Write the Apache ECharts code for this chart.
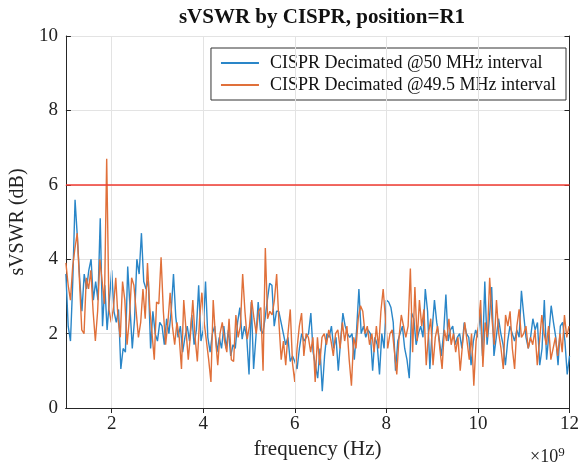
<!DOCTYPE html>
<html>
<head>
<meta charset="utf-8">
<script src="https://cdn.jsdelivr.net/npm/echarts@6/dist/echarts.min.js"></script>
<style>
  html, body { margin: 0; padding: 0; background: #fff; }
  #chart { width: 582px; height: 467px; }
</style>
</head>
<body>
<div id="chart"></div>
<script>
// axis ticks
const xTicks = [2, 4, 6, 8, 10, 12]
const yTicks = [0, 2, 4, 6, 8, 10]
const limitValue = 6 // red limit line (dB)

// frequency grid of each series, GHz
const start50 = 1
const step50 = 0.05
const start495 = 1
const step495 = 0.0495

// sVSWR (dB), CISPR decimated @50 MHz
const svswr50 = [
  3.6, 2.2, 1.8, 3.4, 5.6, 4.6, 3.5, 2.6, 3.6, 3.2, 3.7, 4.0, 2.9, 3.4, 2.9, 5.1, 2.2, 3.3, 2.1, 2.9,
  3.7, 2.6, 2.3, 2.65, 1.05, 1.6, 1.5, 3.8, 2.7, 1.6, 2.4, 4.0, 3.6, 4.7, 3.4, 3.2, 3.45, 1.6, 2.6, 2.0,
  1.8, 2.3, 2.2, 1.7, 2.4, 2.0, 2.6, 3.6, 2.45, 1.9, 2.2, 1.5, 1.9, 2.2, 1.8, 2.5, 1.7, 2.1, 3.3, 1.8,
  2.1, 3.4, 1.9, 1.5, 2.0, 2.2, 1.5, 1.9, 1.6, 2.2, 1.6, 2.1, 1.4, 1.7, 1.6, 2.3, 2.7, 1.85, 2.2, 1.9,
  0.9, 2.85, 1.05, 1.9, 2.85, 2.1, 2.0, 2.4, 2.9, 3.35, 3.3, 2.2, 2.6, 2.6, 2.3, 2.0, 1.7, 1.9, 1.25, 1.4,
  1.25, 1.05, 1.6, 2.0, 1.8, 1.9, 2.0, 2.55, 1.5, 1.15, 0.8, 1.6, 0.45, 1.4, 2.0, 1.9, 2.2, 1.6, 1.9, 1.0,
  1.8, 2.55, 2.2, 2.0, 1.9, 2.0, 1.3, 2.1, 3.2, 2.0, 2.2, 1.9, 2.1, 2.0, 1.0, 1.9, 1.7, 0.9, 2.0, 1.6,
  2.9, 2.85, 2.7, 2.3, 1.0, 1.8, 2.0, 2.2, 1.6, 1.3, 0.8, 2.55, 2.4, 1.7, 2.0, 2.2, 1.9, 3.2, 2.6, 1.05,
  2.1, 2.9, 2.3, 1.9, 1.4, 2.0, 3.05, 1.8, 2.1, 2.2, 1.7, 1.9, 2.0, 1.6, 2.3, 2.0, 1.9, 1.15, 1.8, 2.1,
  1.9, 2.6, 1.4, 3.4, 1.7, 2.4, 3.25, 1.4, 1.9, 2.4, 2.0, 1.7, 1.15, 1.8, 2.2, 2.0, 1.8, 2.1, 1.9, 3.15,
  2.5, 1.9, 1.6, 1.9, 2.4, 2.1, 2.3, 1.15, 1.6, 2.9, 1.3, 2.0, 2.75, 2.3, 1.9, 1.15, 2.2, 2.3, 1.8, 0.9,
  1.4
]

// sVSWR (dB), CISPR decimated @49.5 MHz
const svswr495 = [
  3.9, 3.3, 2.9, 3.8, 4.3, 4.7, 3.4, 2.1, 2.0, 3.5, 3.2, 3.7, 2.6, 1.8, 2.6, 4.0, 3.4, 2.8, 6.7, 2.65,
  2.3, 2.7, 3.5, 2.4, 1.9, 3.4, 2.9, 1.7, 2.4, 3.5, 3.3, 2.6, 1.9, 2.3, 3.2, 2.4, 3.9, 2.7, 2.0, 1.3,
  2.85, 2.8, 4.05, 2.6, 1.7, 2.3, 3.1, 2.2, 1.7, 2.3, 1.9, 1.05, 2.9, 2.1, 1.3, 2.0, 2.9, 1.9, 1.25, 2.4,
  3.1, 2.3, 1.8, 1.3, 0.7, 2.9, 1.9, 1.15, 2.0, 2.3, 1.8, 1.5, 2.4, 1.3, 1.25, 2.5, 1.9, 2.2, 3.6, 2.6,
  1.85, 2.2, 2.9, 2.4, 2.0, 2.6, 2.7, 1.0, 4.3, 2.4, 2.6, 2.5, 2.9, 3.6, 2.3, 1.3, 1.8, 1.15, 2.0, 2.65,
  1.2, 0.7, 1.6, 2.2, 2.55, 1.4, 2.0, 1.9, 1.5, 1.9, 0.7, 1.9, 1.15, 1.9, 2.0, 1.7, 2.1, 1.8, 1.4, 2.0,
  2.1, 1.6, 2.3, 1.8, 2.2, 1.3, 0.6, 1.9, 1.6, 2.4, 2.75, 2.6, 2.0, 2.2, 1.7, 2.0, 1.5, 2.2, 1.6, 2.6,
  3.2, 2.4, 1.6, 2.0, 2.1, 1.5, 0.9, 1.9, 2.5, 2.2, 1.9, 2.2, 3.75, 1.5, 3.25, 1.8, 2.9, 2.2, 2.65, 1.15,
  2.0, 2.4, 1.15, 1.9, 2.2, 1.6, 1.05, 2.1, 1.8, 2.4, 1.7, 2.0, 1.5, 1.9, 1.0, 1.7, 2.3, 1.8, 1.3, 2.0,
  0.6, 1.8, 2.2, 2.9, 1.1, 2.3, 1.9, 3.5, 2.4, 1.7, 2.9, 2.0, 1.6, 1.05, 2.5, 2.2, 2.6, 1.6, 1.05, 2.2,
  2.65, 1.9, 2.0, 2.2, 1.6, 1.9, 1.7, 2.1, 1.15, 1.8, 2.5, 2.0, 1.7, 2.2, 1.3, 1.6, 1.9, 1.4, 2.0, 1.5,
  2.5, 1.9, 2.2
]

const seriesNames = ['CISPR Decimated @50 MHz interval', 'CISPR Decimated @49.5 MHz interval']
const colors = ['#2a86c8', '#e0703a']

const toPoints = (values, start, step) => values.map((v, i) => [start + step * i, v])

const serif = '"Liberation Serif", "DejaVu Serif", serif'
const chart = echarts.init(document.getElementById('chart'))

const axisLineStyle = { color: '#262626', width: 1 }
const labelStyle = { fontFamily: serif, fontSize: 19, color: '#222' }

const option = {
  animation: false,
  textStyle: { fontFamily: serif },
  title: {
    text: 'sVSWR by CISPR, position=R1',
    left: 317,
    textAlign: 'center',
    top: 2,
    textStyle: { fontFamily: serif, fontWeight: 'bold', fontSize: 21, color: '#111' }
  },
  grid: { left: 63, right: 10, top: 36, bottom: 59 },
  legend: {
    data: seriesNames,
    orient: 'vertical',
    right: 16,
    top: 48,
    padding: [6, 10, 6, 10],
    itemGap: 4,
    itemWidth: 38,
    itemHeight: 2,
    icon: 'rect',
    borderColor: '#333',
    borderWidth: 1,
    backgroundColor: '#fff',
    textStyle: { fontFamily: serif, fontSize: 18, color: '#111', padding: [0, 0, 0, 6] }
  },
  graphic: [
    {
      type: 'text',
      left: 530,
      top: 446,
      style: {
        text: '×10{sup|9}',
        fontFamily: serif,
        fontSize: 18,
        fill: '#222',
        rich: { sup: { fontSize: 13, verticalAlign: 'top', padding: [0, 0, 9, 0], fontFamily: serif } }
      }
    }
  ],
  xAxis: [
    {
      type: 'value',
      min: 1,
      max: 12,
      name: 'frequency (Hz)',
      nameLocation: 'middle',
      nameGap: 27,
      nameTextStyle: { fontFamily: serif, fontSize: 21, color: '#222' },
      axisLine: { lineStyle: axisLineStyle },
      axisTick: { inside: true, length: 5, customValues: xTicks, lineStyle: axisLineStyle },
      axisLabel: { customValues: xTicks, margin: 7, ...labelStyle },
      splitLine: { show: false }
    },
    {
      type: 'value',
      position: 'top',
      min: 1,
      max: 12,
      axisLine: { show: true, lineStyle: axisLineStyle },
      axisTick: { inside: true, length: 5, customValues: xTicks, lineStyle: axisLineStyle },
      axisLabel: { show: false },
      splitLine: { show: false }
    }
  ],
  yAxis: [
    {
      type: 'value',
      min: yTicks[0],
      max: yTicks[yTicks.length - 1],
      interval: 2,
      name: 'sVSWR (dB)',
      nameLocation: 'middle',
      nameGap: 33,
      nameTextStyle: { fontFamily: serif, fontSize: 20, color: '#222' },
      axisLine: { show: true, lineStyle: axisLineStyle },
      axisTick: { show: true, inside: true, length: 5, lineStyle: axisLineStyle },
      axisLabel: { margin: 8, ...labelStyle },
      splitLine: { show: true, lineStyle: { color: '#e3e3e3', width: 1 } }
    },
    {
      type: 'value',
      position: 'right',
      min: yTicks[0],
      max: yTicks[yTicks.length - 1],
      interval: 2,
      axisLine: { show: true, lineStyle: axisLineStyle },
      axisTick: { show: true, inside: true, length: 5, lineStyle: axisLineStyle },
      axisLabel: { show: false },
      splitLine: { show: false }
    }
  ],
  series: [
    {
      // vertical grid lines at the x ticks
      type: 'line',
      data: [],
      silent: true,
      z: 1,
      markLine: {
        silent: true,
        symbol: 'none',
        label: { show: false },
        lineStyle: { color: '#e3e3e3', width: 1, type: 'solid' },
        data: xTicks.slice(0, -1).map((v) => ({ xAxis: v }))
      }
    },
    {
      name: seriesNames[0],
      type: 'line',
      data: toPoints(svswr50, start50, step50),
      showSymbol: false,
      symbol: 'none',
      itemStyle: { color: colors[0] },
      lineStyle: { width: 1.4, color: colors[0] },
      z: 3
    },
    {
      name: seriesNames[1],
      type: 'line',
      data: toPoints(svswr495, start495, step495),
      showSymbol: false,
      symbol: 'none',
      itemStyle: { color: colors[1] },
      lineStyle: { width: 1.4, color: colors[1] },
      z: 4,
      markLine: {
        silent: true,
        symbol: 'none',
        label: { show: false },
        lineStyle: { color: '#f03a30', width: 1.5, type: 'solid' },
        data: [{ yAxis: limitValue }]
      }
    }
  ]
}

chart.setOption(option)
</script>
</body>
</html>
